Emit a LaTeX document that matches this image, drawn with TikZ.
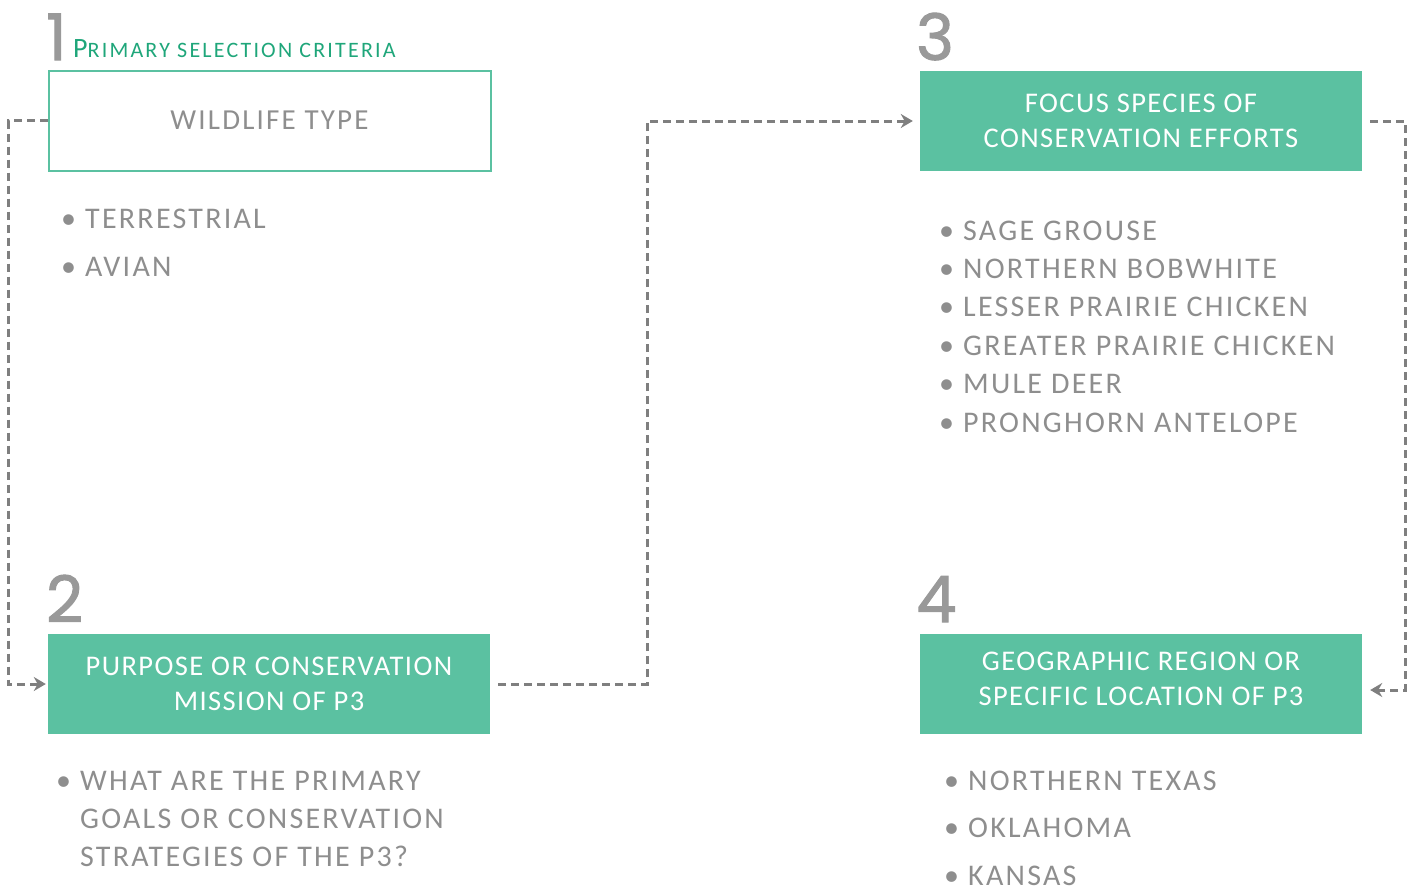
\documentclass[tikz,border=0pt]{standalone}
\usepackage{fontspec}
\setmainfont{Carlito}
\newfontfamily\numfont{Poppins}[FakeBold=1.6]
\usetikzlibrary{arrows.meta,positioning}
\definecolor{boxgreen}{HTML}{5BC1A1}
\definecolor{titlegreen}{HTML}{1FA67A}
\definecolor{txtgray}{HTML}{8E8E8E}
\definecolor{linegray}{HTML}{7F7F7F}
\definecolor{numgray}{HTML}{999999}
\begin{document}
\begin{tikzpicture}[x=1pt,y=-1pt]
	\tikzset{stage/.style={minimum width=442pt,minimum height=100pt,inner sep=0pt,align=center,text=white,font=\fontsize{28.5}{35}\selectfont\addfontfeature{LetterSpace=5}},
		filled/.style={stage,fill=boxgreen},
		outlined/.style={stage,draw=boxgreen,line width=2pt,text=txtgray,font=\fontsize{29}{35}\selectfont\addfontfeature{LetterSpace=7.5}},
		num/.style={anchor=base west,inner sep=0pt,text=numgray,font=\numfont\fontsize{64}{64}\selectfont},
		item/.style={anchor=base west,inner sep=0pt,text=txtgray,font=\fontsize{30}{38}\selectfont\addfontfeature{LetterSpace=7.5}},
		flow/.style={draw=linegray,line width=3pt,dash pattern=on 8pt off 5pt,-{Stealth[length=12pt,width=14pt]}}}
	\useasboundingbox (0,0) rectangle (1418,891);

	% the four stages
	\node[outlined] (wildlife) at (269.5,120.5) {WILDLIFE TYPE};
	\node[filled] (purpose) at (269,684) {PURPOSE OR CONSERVATION\\MISSION OF P3};
	\node[filled] (focus) at (1141,121) {FOCUS SPECIES OF\\CONSERVATION EFFORTS};
	\node[filled] (geo) at (1141,684) {GEOGRAPHIC REGION OR\\SPECIFIC LOCATION OF P3\\[-25pt]};

	\node[num] (n1) at (46,60) {1};
	\node[num] (n2) at (46,622) {2};
	\node[num] (n3) at (916,60) {3};
	\node[num] (n4) at (916,622) {4};
	\node[anchor=base west,inner sep=0pt,text=titlegreen] (crit) at (73,57) {\addfontfeature{LetterSpace=10}{\fontsize{28}{28}\selectfont P}{\fontsize{22}{22}\selectfont RIMARY SELECTION CRITERIA}};

	% bullet lists
	\foreach \kind [count=\i] in {TERRESTRIAL,AVIAN}
		\node[item] (type\i) at (61,{228+48*(\i-1)}) {\textbullet\ \kind};
	\foreach \bird [count=\i] in {SAGE GROUSE,NORTHERN BOBWHITE,LESSER PRAIRIE CHICKEN,GREATER PRAIRIE CHICKEN,MULE DEER,PRONGHORN ANTELOPE}
		\node[item] (sp\i) at (939,{240+38.4*(\i-1)}) {\textbullet\ \bird};
	\node[item] (goal1) at (56,790) {\textbullet\ WHAT ARE THE PRIMARY};
	\node[item] (goal2) at (56,828) {\phantom{\textbullet\ }GOALS OR CONSERVATION};
	\node[item] (goal3) at (56,866) {\phantom{\textbullet\ }STRATEGIES OF THE P3?};
	\foreach \place [count=\i] in {NORTHERN TEXAS,OKLAHOMA,KANSAS}
		\node[item] (loc\i) at (944,{790+47.5*(\i-1)}) {\textbullet\ \place};

	% connectors
	\draw[flow,shorten >=2pt] (wildlife.west) -- ++(-39,0) |- (purpose.west);
	\draw[flow,shorten <=8pt,shorten >=7pt] (purpose.east) -- ++(157,0) |- (focus.west);
	\draw[flow,shorten <=8pt,shorten >=8pt] (focus.east) -- ++(43,0) |- ([yshift=-6pt]geo.east);
\end{tikzpicture}
\end{document}
